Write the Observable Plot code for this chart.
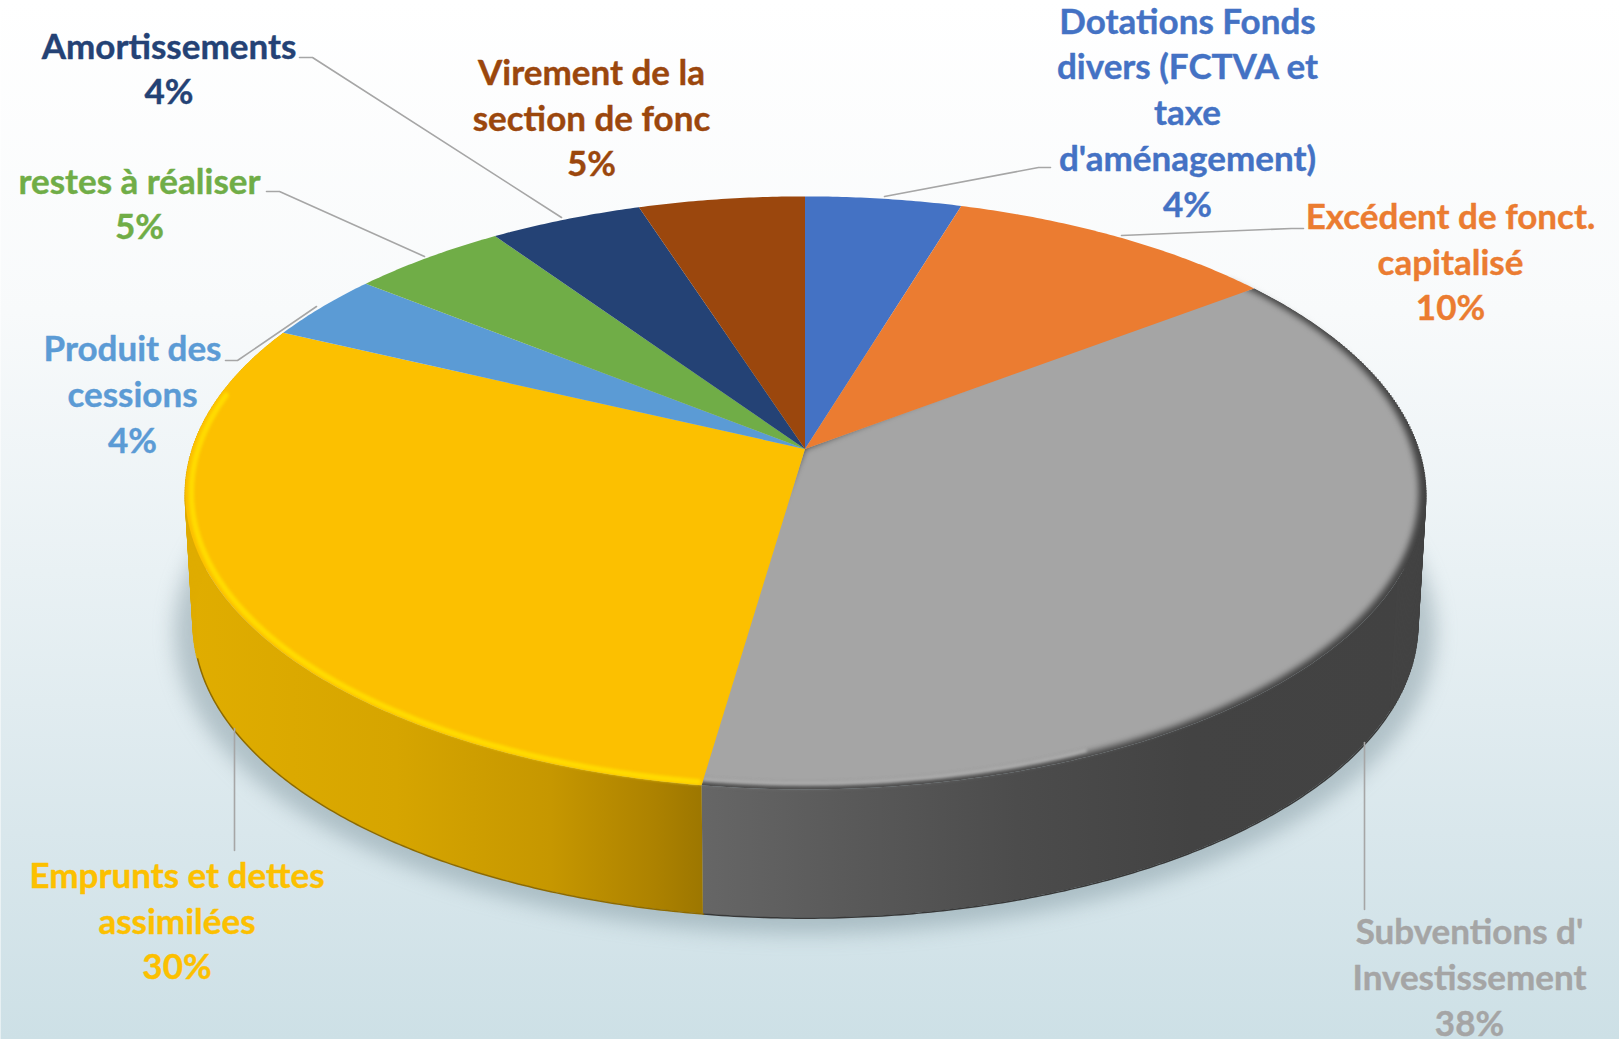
<!DOCTYPE html>
<html><head><meta charset="utf-8">
<style>html,body{margin:0;padding:0;overflow:hidden;background:#fff}svg{display:block}</style>
<script src="https://cdn.jsdelivr.net/npm/d3@7"></script>
<script src="https://cdn.jsdelivr.net/npm/@observablehq/plot@0.6"></script>
</head><body><div id="chart"></div>
<script>
// Data
const categories = ["Dotations Fonds\ndivers (FCTVA et\ntaxe\nd'aménagement)","Excédent de fonct.\ncapitalisé","Subventions d'\nInvestissement","Emprunts et dettes\nassimilées","Produit des\ncessions","restes à réaliser","Amortissements","Virement de la\nsection de fonc"];
const shares = [4.7,10.0,37.6,29.7,3.7,4.7,4.6,5.0];
const percentLabels = ["4%","10%","38%","30%","4%","5%","4%","5%"];
const colors = ["#4472c4","#eb7c31","#a5a5a5","#fcc000","#5b9bd5","#70ad47","#244275","#9b470d"];

// Layout
const W = 1619, H = 1039;
const labelX = [1187,1450,1469,176.5,132,139,168.5,591];
const labelY = [110,259.5,975,918.5,392,201.5,66.5,115.5];
const leaders = [
  [[884,196],[1038,167],[1050,167]],
  [[1121,235],[1291,228],[1303,228]],
  [[1364,742],[1364,909]],
  [[234,728],[234,850]],
  [[225,360],[237,360],[316,306]],
  [[266,191],[279,191],[424,256]],
  [[299,57],[312,57],[561,217]],
  []
];
// Perspective of the disc: top face and base
const persp = 0.148;
const topFace = {cx:805, y0:449, a:613, b:290};
const baseFace = {cx:805, y0:582, a:605, b:286};
function project(face, theta, r=1){
  const s = r*Math.sin(theta), c = r*Math.cos(theta), w = 1+persp*c;
  return [face.cx + face.a*s/w, face.y0 - face.b*c/w];
}
const deg = Math.PI/180;
function thetas(a0,a1){
  const n = Math.max(2, Math.ceil((a1-a0)/(0.5*deg))), out=[];
  for(let i=0;i<=n;i++) out.push(a0+(a1-a0)*i/n);
  return out;
}
const arcs = d3.pie().sort(null).startAngle(0).endAngle(2*Math.PI)(shares);
const sector = (i,face,r,pad=0,fill=colors[i]) => thetas(arcs[i].startAngle-pad,arcs[i].endAngle+pad).map(t=>{
  const [x,y]=project(face,t,r);
  return {i,x,y,ax:face.cx,ay:face.y0,fill};
});
const wall = (i,fill) => thetas(arcs[i].startAngle,arcs[i].endAngle).map(t=>{
  const [x1,y1]=project(topFace,t), [x2,y2]=project(baseFace,t);
  return {i,t,x1,y1,x2,y2,fill};
});
const rim = (face,r,a0,a1) => thetas(a0,a1).map(t=>{const [x,y]=project(face,t,r);return {x,y};});
// rulings on the flanks fill the silhouette between the rim and the base
const flank = (i,fill,a0,a1) => wall(i,fill).filter(d=>d.t>=a0*deg && d.t<=a1*deg);

const defs = () => {
  const d = d3.create("svg:defs");
  const grad=(id,stops,x1,x2)=>{
    const g=d.append("linearGradient").attr("id",id).attr("gradientUnits","userSpaceOnUse");
    if(x1==null){g.attr("x1",0).attr("x2",0).attr("y1",0).attr("y2",H);} else {g.attr("x1",x1).attr("x2",x2).attr("y1",0).attr("y2",0);}
    stops.forEach(([o,c])=>g.append("stop").attr("offset",o).attr("stop-color",c));
  };
  grad("bg",[[0,"#ffffff"],[.3,"#f8fafb"],[.55,"#e9f1f4"],[.8,"#d9e7ec"],[1,"#cde0e6"]]);
  grad("wallGray",[[0,"#666666"],[.2,"#5a5a5a"],[.45,"#4c4c4c"],[.7,"#434343"],[1,"#424242"]],703,1400);
  grad("wallYellow",[[0,"#e0ad00"],[.4,"#d6a500"],[.7,"#c69700"],[.9,"#ad8200"],[1,"#9c7600"]],190,705);
  return d.node();
};

const chart = Plot.plot({
  width:W, height:H, margin:0,
  style:{background:"none"},
  x:{domain:[0,W],range:[0,W],axis:null},
  y:{domain:[0,H],range:[0,H],axis:null},
  color:{type:"identity"},
  marks:[
    defs,
    Plot.frame({fill:"url(#bg)",stroke:"none"}),
    // soft shadow under the disc
    Plot.area(rim(baseFace,1.03,0,2*Math.PI),{x1:()=>baseFace.cx,y1:()=>baseFace.y0+30,x2:"x",y2:d=>d.y+4,fill:"#6f8791",fillOpacity:.42,imageFilter:"blur(10px)"}),
    // side wall
    Plot.area(wall(2,"url(#wallGray)"),{x1:"x1",y1:"y1",x2:"x2",y2:"y2",fill:"fill",z:"i"}),
    Plot.area(wall(3,"url(#wallYellow)"),{x1:"x1",y1:"y1",x2:"x2",y2:"y2",fill:"fill",z:"i"}),
    Plot.line(rim(baseFace,1,arcs[2].startAngle+25*deg,arcs[2].endAngle),{x:"x",y:"y",stroke:"#383838",strokeWidth:1.5}),
    Plot.line(rim(baseFace,1,arcs[3].startAngle,arcs[3].endAngle-40*deg),{x:"x",y:"y",stroke:"#8d6a00",strokeWidth:1.5}),
    Plot.link(flank(2,"#434343",65,115),{x1:"x1",y1:"y1",x2:"x2",y2:"y2",stroke:"fill",strokeWidth:2.5}),
    Plot.link(flank(3,"#dfac00",255,295),{x1:"x1",y1:"y1",x2:"x2",y2:"y2",stroke:"fill",strokeWidth:2.5}),
    // dark underlay of the grey top, then a blurred grey face gives the rounded bevel
    Plot.area(sector(2,topFace,1,0,"#434343"),{x1:"ax",y1:"ay",x2:"x",y2:"y",fill:"fill",z:"i"}),
    Plot.area(sector(2,topFace,.99,3*deg),{x1:"ax",y1:"ay",x2:"x",y2:"y",fill:"fill",z:"i",imageFilter:"blur(3px)"}),
    Plot.line(rim(topFace,.983,arcs[2].endAngle-32*deg,arcs[2].endAngle),{x:"x",y:"y",stroke:"#b0b0b0",strokeWidth:3.5,imageFilter:"blur(1.5px)"}),
    // remaining faces
    ...[0,1,3,4,5,6,7].map(i=>Plot.area(sector(i,topFace,1),{x1:"ax",y1:"ay",x2:"x",y2:"y",fill:"fill",z:"i"})),
    // yellow bevel highlight
    Plot.line(rim(topFace,.991,arcs[3].startAngle+.4*deg,arcs[3].endAngle-14*deg),{x:"x",y:"y",stroke:"#ffdb00",strokeWidth:5.5,imageFilter:"blur(1.6px)"}),
    // leader lines
    ...leaders.filter(l=>l.length).map(l=>Plot.line(l,{x:d=>d[0],y:d=>d[1],stroke:"#a6a6a6",strokeWidth:1.6})),
    // labels
    Plot.text(categories.map((c,i)=>({t:c+"\n"+percentLabels[i],x:labelX[i],y:labelY[i],fill:colors[i]})),{
      x:"x",y:"y",text:"t",fill:"fill",stroke:"fill",strokeWidth:.4,fontFamily:"Lato",fontWeight:700,fontSize:35,lineHeight:1.306,lineAnchor:"middle",textAnchor:"middle"
    })
  ]
});
document.getElementById("chart").append(chart);
</script></body></html>
